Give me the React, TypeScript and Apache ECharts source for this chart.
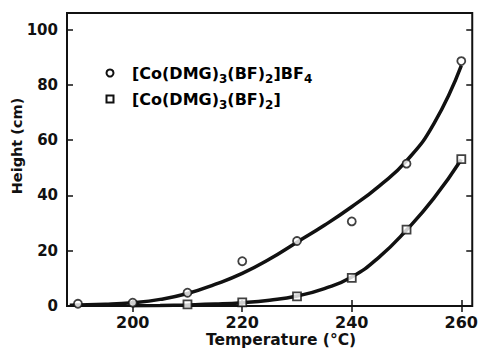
import React, { useEffect, useRef } from "react";
import * as echarts from "echarts";

const xTicks = [200, 220, 240, 260];
const yTicks = [0, 20, 40, 60, 80, 100];

const bf4Temps = [190, 200, 210, 220, 230, 240, 250, 260];
const bf4Heights = [0.8, 1.2, 4.8, 16.2, 23.5, 30.6, 51.5, 88.6];

const neutralTemps = [210, 220, 230, 240, 250, 260];
const neutralHeights = [0.6, 1.3, 3.5, 10.2, 27.6, 53.1];

const bf4CurveTemps = [188.5, 195, 200, 205, 210, 215, 220, 225, 230, 235, 240, 245, 250, 255, 260];
const bf4CurveHeights = [0.25, 0.6, 1.2, 2.4, 4.5, 7.8, 11.8, 17, 23.1, 29.2, 35.9, 43.4, 52.5, 66, 87];

const neutralCurveTemps = [200, 205, 210, 215, 220, 225, 230, 235, 240, 245, 250, 255, 260];
const neutralCurveHeights = [0.1, 0.2, 0.4, 0.7, 1.2, 2.1, 3.6, 6.3, 10.5, 17.7, 27.5, 39, 53];

const FONT = "DejaVu Sans";
const INK = "#111";

const pairs = (xs: number[], ys: number[]) => xs.map((x, i) => [x, ys[i]]);

export default function App() {
  const ref = useRef<HTMLDivElement>(null);
  useEffect(() => {
    if (!ref.current) return;
    const chart = echarts.init(ref.current, undefined, { renderer: "svg" });
    const rich = {
      n: { fontFamily: FONT, fontWeight: "bold", fontSize: 16, color: INK, lineHeight: 24, verticalAlign: "middle" },
      s: { fontFamily: FONT, fontWeight: "bold", fontSize: 12, color: INK, lineHeight: 12, height: 12, verticalAlign: "bottom" },
    };
    const tickCommon = { show: true, inside: true, length: 6, lineStyle: { color: INK, width: 1.5 } };
    chart.setOption({
      animation: false,
      backgroundColor: "#fff",
      grid: { left: 67, right: 6, top: 13, bottom: 42, show: true, borderColor: INK, borderWidth: 2, backgroundColor: "transparent" },
      xAxis: [
        {
          type: "value", min: 188, max: 262, position: "bottom",
          axisLine: { show: false }, splitLine: { show: false },
          axisTick: { ...tickCommon, customValues: xTicks },
          axisLabel: { customValues: xTicks, margin: 8, fontFamily: FONT, fontWeight: "bold", fontSize: 16, color: INK },
        },
        {
          type: "value", min: 188, max: 262, position: "top",
          axisLine: { show: false }, splitLine: { show: false },
          axisTick: { ...tickCommon, customValues: xTicks },
          axisLabel: { show: false },
        },
      ],
      yAxis: [
        {
          type: "value", min: 0, max: 106, position: "left",
          axisLine: { show: false }, splitLine: { show: false },
          axisTick: { ...tickCommon, customValues: yTicks },
          axisLabel: { customValues: yTicks, margin: 9, fontFamily: FONT, fontWeight: "bold", fontSize: 15, color: INK },
        },
        {
          type: "value", min: 0, max: 106, position: "right",
          axisLine: { show: false }, splitLine: { show: false },
          axisTick: { ...tickCommon, customValues: yTicks },
          axisLabel: { show: false },
        },
      ],
      series: [
        {
          type: "line", name: "fit BF4", data: pairs(bf4CurveTemps, bf4CurveHeights),
          smooth: 0.5, showSymbol: false, symbol: "none",
          lineStyle: { color: INK, width: 3.5 }, z: 2,
        },
        {
          type: "line", name: "fit neutral", data: pairs(neutralCurveTemps, neutralCurveHeights),
          smooth: 0.5, showSymbol: false, symbol: "none",
          lineStyle: { color: INK, width: 3.5 }, z: 2,
        },
        {
          type: "scatter", name: "[Co(DMG)3(BF)2]BF4", data: pairs(bf4Temps, bf4Heights),
          symbol: "circle", symbolSize: 8,
          itemStyle: { color: "#fff", borderColor: INK, borderWidth: 1.8 }, z: 5,
        },
        {
          type: "scatter", name: "[Co(DMG)3(BF)2]", data: pairs(neutralTemps, neutralHeights),
          symbol: "rect", symbolSize: 8,
          itemStyle: { color: "#fff", borderColor: INK, borderWidth: 1.8 }, z: 5,
        },
      ],
      graphic: [
        { type: "circle", shape: { cx: 110, cy: 73, r: 3.5 }, style: { fill: "#fff", stroke: INK, lineWidth: 2 } },
        { type: "rect", shape: { x: 106.5, y: 95.5, width: 7, height: 7 }, style: { fill: "#fff", stroke: INK, lineWidth: 2 } },
        {
          type: "text", x: 132, y: 73,
          style: { text: "{n|[Co(DMG)}{s|3}{n|(BF)}{s|2}{n|]BF}{s|4}", rich, verticalAlign: "middle", align: "left" },
        },
        {
          type: "text", x: 132, y: 99,
          style: { text: "{n|[Co(DMG)}{s|3}{n|(BF)}{s|2}{n|]}", rich, verticalAlign: "middle", align: "left" },
        },
        {
          type: "text", x: 281, y: 340,
          style: { text: "Temperature (°C)", fontFamily: FONT, fontWeight: "bold", fontSize: 15.5, fill: INK, align: "center", verticalAlign: "middle" },
        },
        {
          type: "text", x: 17, y: 146, rotation: Math.PI / 2,
          style: { text: "Height (cm)", fontFamily: FONT, fontWeight: "bold", fontSize: 14.5, fill: INK, align: "center", verticalAlign: "middle" },
        },
      ],
    });
    return () => chart.dispose();
  }, []);
  return <div ref={ref} style={{ position: "absolute", left: 0, top: 0, width: 481, height: 348, background: "#fff" }} />;
}
